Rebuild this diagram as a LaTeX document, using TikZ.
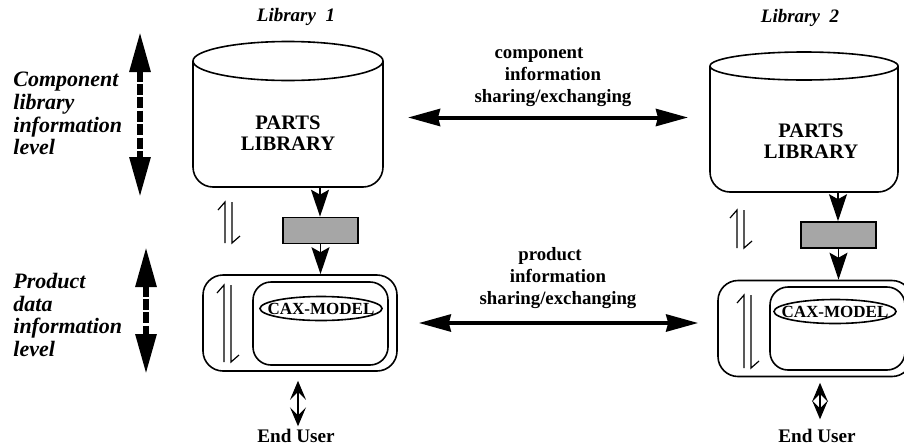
\documentclass[tikz,border=0pt]{standalone}
\usepackage{fontspec}
\setmainfont{Liberation Serif}
\usetikzlibrary{arrows.meta}
\usetikzlibrary{shapes.geometric}

\begin{document}
\begin{tikzpicture}[x=0.5pt,y=-0.5pt,
  roundbox/.style={draw, line width=0.8pt, rounded corners=10pt},
  outerbox/.style={roundbox, minimum width=97pt, minimum height=48pt},
  innerbox/.style={roundbox, rounded corners=9pt, minimum width=67.5pt, minimum height=41.5pt},
  model/.style={ellipse, draw, line width=0.8pt, minimum width=61pt, minimum height=12pt, inner sep=0pt, font=\fontsize{8.5}{9}\selectfont\bfseries},
  filterbox/.style={draw, line width=0.8pt, fill=black!35, minimum width=37.5pt, minimum height=13pt, inner sep=0pt},
  partstxt/.style={align=center, font=\fontsize{10.3}{10.7}\selectfont\bfseries},
  libtxt/.style={anchor=base, font=\fontsize{9.5}{11}\selectfont\bfseries\itshape},
  leveltxt/.style={align=left, anchor=north west, inner sep=0pt, font=\fontsize{11}{11.3}\selectfont\bfseries\itshape},
  sharetxt/.style={align=center, font=\fontsize{9.4}{11}\selectfont\bfseries},
  usertxt/.style={anchor=base, inner sep=1pt, font=\fontsize{9.6}{11}\selectfont\bfseries},
  feed/.style={line width=0.7pt, -{Stealth[length=13.5pt, width=9pt, inset=2.5pt]}},
  share/.style={line width=2pt, {Stealth[length=16pt, width=8.5pt, inset=1pt]}-{Stealth[length=16pt, width=8.5pt, inset=1pt]}},
  levelarrow/.style={line width=3pt, dash pattern=on 5.5pt off 1.2pt, {Triangle[length=20pt, width=10pt]}-{Triangle[length=20pt, width=10pt]}},
  userarrow/.style={line width=0.6pt, {Stealth[length=9.5pt, width=8pt, inset=4pt]}-{Stealth[length=9.5pt, width=8pt, inset=4pt]}},
  harp/.style={line width=0.6pt}]
\clip (0,0) rectangle (904,445);

% levels
\node[leveltxt] (comp) at (13,72) {Component\\library\\information\\level};
\node[leveltxt] (prod) at (13,273) {Product\\data\\information\\level};
\coordinate (lvl1-t) at (140,32);
\coordinate (lvl1-b) at (140,197);
\coordinate (lvl2-t) at (146,247);
\coordinate (lvl2-b) at (146,374);
\draw[levelarrow] (lvl1-t) -- (lvl1-b);
\draw[levelarrow] (lvl2-t) -- (lvl2-b);

% library 1
\node[libtxt] (title1) at (296,21) {Library\hspace{0.5em}1};
\draw[line width=0.8pt, rounded corners=10pt] (193,61) -- (193,187) -- (383,187) -- (383,61);
\draw[line width=0.8pt, fill=white] (288,61) ellipse [x radius=95, y radius=19.5];
\node[partstxt] (lib1) at (288,133) {PARTS\\LIBRARY};
\coordinate (lib1-s) at (320,187);
\coordinate (lib1-e) at (383,117.5);
\node[filterbox] (conv1) at (320.5,230.5) {};
\node[outerbox] (app1) at (300,323) {};
\node[innerbox] (cax1) at (320.5,323.5) {};
\node[model] (mod1) at (321,308.5) {\makebox[0pt]{CAX-MODEL}};
\draw[feed] (lib1-s) -- (lib1-s |- conv1.north);
\draw[feed] (conv1.south) -- (conv1.south |- app1.north);
\node[usertxt] (eu1) at (296,442) {End User};
\draw[userarrow, shorten >=4.5pt] ([xshift=1pt]eu1.north) -- ([xshift=1pt]eu1.north |- app1.south);

% library 2
\node[libtxt] (title2) at (800,22) {Library\hspace{0.5em}2};
\draw[line width=0.8pt, rounded corners=10pt] (710,66) -- (710,192) -- (898,192) -- (898,66);
\draw[line width=0.8pt, fill=white] (804,66) ellipse [x radius=94, y radius=14];
\node[partstxt] (lib2) at (811,141) {PARTS\\LIBRARY};
\coordinate (lib2-s) at (838,192);
\coordinate (lib2-w) at (710,117.5);
\node[filterbox] (conv2) at (838.5,235) {};
\node[outerbox] (app2) at (815,328.5) {};
\node[innerbox] (cax2) at (837.5,328.5) {};
\node[model] (mod2) at (835,311.5) {\makebox[0pt]{CAX-MODEL}};
\draw[feed] (lib2-s) -- (lib2-s |- conv2.north);
\draw[feed] (conv2.south) -- (conv2.south |- app2.north);
\node[usertxt] (eu2) at (817,442) {End User};
\draw[userarrow, shorten <=3.5pt, shorten >=2.75pt] ([xshift=1.5pt]eu2.north) -- ([xshift=1.5pt]eu2.north |- app2.south);

% up/down harpoons
\foreach \x/\t/\b in {225/202/243, 224/285/362, 737/210/248, 744/295/368}
  \draw[harp] (\x-7,\t+8) -- (\x,\t) -- (\x,\b) (\x+7,\t) -- (\x+7,\b) -- (\x+15,\b-7);

% sharing
\node[sharetxt] (share1) at (553,77) {component\hspace*{14pt}\\information\\sharing/exchanging};
\node[sharetxt] (share2) at (558,278) {product\hspace*{8pt}\\information\\sharing/exchanging};
\draw[share, shorten <=12.5pt, shorten >=11pt] (lib1-e) -- (lib2-w);
\draw[share, shorten <=10.5pt, shorten >=9.5pt] (app1.east) -- (app1.east -| app2.west);

\end{tikzpicture}
\end{document}
